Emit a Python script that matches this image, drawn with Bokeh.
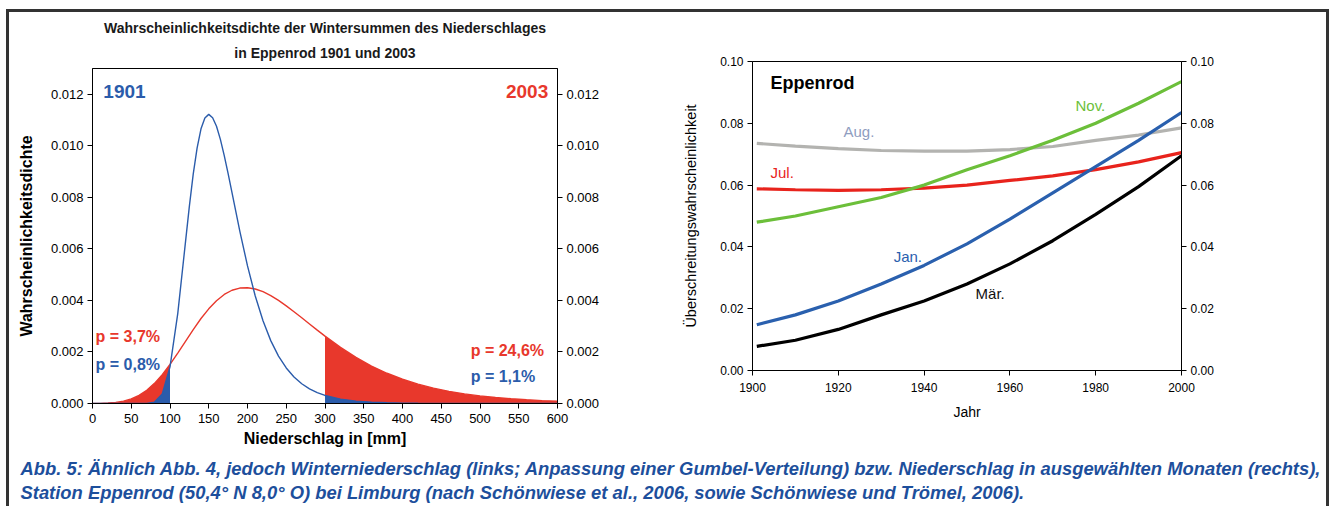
from bokeh.plotting import figure
from bokeh.layouts import row, column
from bokeh.models import Range1d, LinearAxis, FixedTicker, PrintfTickFormatter, Title
from bokeh.core.properties import value
from bokeh.embed import file_html
from bokeh.resources import INLINE

FONT = "Liberation Sans"

# ---------------- data: left chart (density curves) ----------------
blue_x = [0, 10, 20, 30, 40, 50, 60, 70, 80, 90, 100, 110, 120, 125, 130, 135, 140, 145, 150,
          155, 160, 165, 170, 175, 180, 190, 200, 210, 220, 230, 240, 250, 260, 270, 280, 290, 300,
          320, 340, 360, 380, 400, 420, 440, 460, 480, 500, 520, 540, 560, 580, 600]
blue_y = [0, 0, 0, 0, 0, 0, 0.0000001, 0.0000037, 0.000055, 0.000374, 0.00142, 0.00349, 0.00627,
          0.00766, 0.00891, 0.00992, 0.01066, 0.01108, 0.01122, 0.01109, 0.01076, 0.01025, 0.00962,
          0.00892, 0.00818, 0.00670, 0.00534, 0.00417, 0.00321, 0.00244, 0.00184, 0.00138, 0.00103,
          0.000766, 0.000568, 0.000420, 0.000312, 0.000170, 0.000093, 0.000050, 0.000027, 0.000015,
          0.0000080, 0.0000043, 0.0000023, 0.0000013, 0.0000007, 0.0000004, 0.0000002, 0.0000001,
          0.0000001, 0.0]

red_x = [0, 10, 20, 30, 40, 50, 60, 70, 80, 90, 100, 110, 120, 130, 140, 150, 160, 170, 180, 190,
         200, 210, 220, 230, 240, 250, 260, 270, 280, 290, 300, 320, 340, 360, 380, 400, 420, 440,
         460, 480, 500, 520, 540, 560, 580, 600]
red_y = [0.000002, 0.0000064, 0.0000178, 0.0000426, 0.000091, 0.000177, 0.000314, 0.000512,
         0.000782, 0.001119, 0.001517, 0.001955, 0.002415, 0.002870, 0.003298, 0.003674, 0.003990,
         0.004231, 0.004395, 0.004480, 0.004494, 0.004443, 0.004338, 0.004187, 0.004001, 0.003790,
         0.003563, 0.003325, 0.003085, 0.002846, 0.002613, 0.002176, 0.001788, 0.001454, 0.001173,
         0.000940, 0.000750, 0.000596, 0.000472, 0.000373, 0.000294, 0.000231, 0.000182, 0.000143,
         0.000112, 0.0000882]

left_x_ticks = [0, 50, 100, 150, 200, 250, 300, 350, 400, 450, 500, 550, 600]
left_y_ticks = [0.0, 0.002, 0.004, 0.006, 0.008, 0.010, 0.012]

# ---------------- data: right chart (exceedance probabilities) ----------------
years = [1901, 1910, 1920, 1930, 1940, 1950, 1960, 1970, 1980, 1990, 2000]
nov = [0.048, 0.050, 0.053, 0.056, 0.060, 0.065, 0.0695, 0.0745, 0.080, 0.0865, 0.0935]
aug = [0.0735, 0.0726, 0.0718, 0.0712, 0.0710, 0.0710, 0.0715, 0.0725, 0.0745, 0.0762, 0.0785]
jul = [0.0588, 0.0585, 0.0583, 0.0585, 0.0590, 0.0600, 0.0615, 0.0630, 0.0650, 0.0675, 0.0705]
jan = [0.0148, 0.0180, 0.0225, 0.0280, 0.0340, 0.0410, 0.0490, 0.0575, 0.0660, 0.0745, 0.0835]
mar = [0.0078, 0.0098, 0.0133, 0.0180, 0.0225, 0.0280, 0.0345, 0.0420, 0.0505, 0.0595, 0.0695]

right_x_ticks = [1900, 1920, 1940, 1960, 1980, 2000]
right_y_ticks = [0.0, 0.02, 0.04, 0.06, 0.08, 0.10]

title_line1 = "Wahrscheinlichkeitsdichte der Wintersummen des Niederschlages"
title_line2 = "in Eppenrod 1901 und 2003"
caption_lines = [
    "Abb. 5: Ähnlich Abb. 4, jedoch Winterniederschlag (links; Anpassung einer Gumbel-Verteilung) bzw. Niederschlag in ausgewählten Monaten (rechts),",
    "Station Eppenrod (50,4° N 8,0° O) bei Limburg (nach Schönwiese et al., 2006, sowie Schönwiese und Trömel, 2006).",
]

BLUE = "#2b5cab"
RED = "#e8382c"


def style_axis(ax, size, label_size=None, label_bold=True):
    ax.major_label_text_font = FONT
    ax.major_label_text_font_size = size
    ax.major_label_text_color = "black"
    ax.axis_line_color = "black"
    ax.axis_line_width = 1
    ax.major_tick_line_color = "black"
    ax.major_tick_out = 5
    ax.major_tick_in = 0
    ax.minor_tick_line_color = None
    ax.major_label_standoff = 4
    if label_size:
        ax.axis_label_text_font = FONT
        ax.axis_label_text_font_size = label_size
        ax.axis_label_text_font_style = "bold" if label_bold else "normal"
        ax.axis_label_text_color = "black"


def no_align(p):
    try:
        p.frame_align = False
    except Exception as e:
        print("frame_align not available:", e)


# ---------------- left figure ----------------
left = figure(width=652, height=443, x_range=Range1d(0, 600), y_range=Range1d(0, 0.013),
              output_backend="svg", toolbar_location=None,
              min_border_left=83, min_border_right=104, min_border_top=56, min_border_bottom=52)
no_align(left)
left.grid.visible = False
left.outline_line_color = "black"
left.outline_line_alpha = 1
left.border_fill_color = "white"

left.add_layout(Title(text=title_line2, align="center", text_font=FONT, text_font_size="14px",
                      text_font_style="bold", text_color="#1a1a1a", standoff=15), "above")
left.add_layout(Title(text=title_line1, align="center", text_font=FONT, text_font_size="14px",
                      text_font_style="bold", text_color="#1a1a1a", standoff=0), "above")

left.xaxis.ticker = FixedTicker(ticks=left_x_ticks)
left.yaxis.ticker = FixedTicker(ticks=left_y_ticks)
left.yaxis.formatter = PrintfTickFormatter(format="%.3f")
left.xaxis.axis_label = "Niederschlag in [mm]"
left.yaxis.axis_label = "Wahrscheinlichkeitsdichte"
style_axis(left.xaxis[0], "13px", "16px")
style_axis(left.yaxis[0], "13px", "16px")
left.xaxis.major_label_standoff = 5
left.xaxis.axis_label_standoff = 4
left.yaxis.axis_label_standoff = 13

rax = LinearAxis(ticker=FixedTicker(ticks=left_y_ticks), formatter=PrintfTickFormatter(format="%.3f"))
style_axis(rax, "13px")
left.add_layout(rax, "right")

# fills
rl_x = [x for x in red_x if x <= 100]
rl_y = [y for x, y in zip(red_x, red_y) if x <= 100]
rr_x = [x for x in red_x if x >= 300]
rr_y = [y for x, y in zip(red_x, red_y) if x >= 300]
bl_x = [x for x in blue_x if x <= 100]
bl_y = [y for x, y in zip(blue_x, blue_y) if x <= 100]
br_x = [x for x in blue_x if x >= 300]
br_y = [y for x, y in zip(blue_x, blue_y) if x >= 300]
left.varea(x=rl_x, y1=0, y2=rl_y, fill_color=RED)
left.varea(x=rr_x, y1=0, y2=rr_y, fill_color=RED)
left.varea(x=bl_x, y1=0, y2=bl_y, fill_color=BLUE)
left.varea(x=br_x, y1=0, y2=br_y, fill_color=BLUE)

left.line(red_x, red_y, line_color=RED, line_width=1.4)
left.line(blue_x, blue_y, line_color=BLUE, line_width=1.4)

left.text(x=[14], y=[0.01211], text=["1901"], text_color=BLUE, text_font=value(FONT),
          text_font_size="19px", text_font_style="bold", text_baseline="middle", text_align="left")
left.text(x=[588], y=[0.01211], text=["2003"], text_color=RED, text_font=value(FONT),
          text_font_size="19px", text_font_style="bold", text_baseline="middle", text_align="right")
left.text(x=[4, 4], y=[0.0026, 0.00151], text=["p = 3,7%", "p = 0,8%"], text_color=[RED, BLUE],
          text_font=value(FONT), text_font_size="16px", text_font_style="bold",
          text_baseline="middle", text_align="left")
left.text(x=[488, 488], y=[0.00206, 0.00105], text=["p = 24,6%", "p = 1,1%"], text_color=[RED, BLUE],
          text_font=value(FONT), text_font_size="16px", text_font_style="bold",
          text_baseline="middle", text_align="left")

# ---------------- right figure ----------------
right = figure(width=665, height=443, x_range=Range1d(1900, 2000), y_range=Range1d(0, 0.10),
               output_backend="svg", toolbar_location=None,
               min_border_left=91, min_border_right=145, min_border_top=49, min_border_bottom=85)
no_align(right)
right.grid.visible = False
right.outline_line_color = "black"
right.outline_line_alpha = 1
right.xaxis.ticker = FixedTicker(ticks=right_x_ticks)
right.yaxis.ticker = FixedTicker(ticks=right_y_ticks)
right.yaxis.formatter = PrintfTickFormatter(format="%.2f")
right.xaxis.axis_label = "Jahr"
right.yaxis.axis_label = "Überschreitungswahrscheinlichkeit"
style_axis(right.xaxis[0], "12px", "14px", label_bold=False)
style_axis(right.yaxis[0], "12px", "14.5px", label_bold=False)
right.xaxis.major_label_standoff = 7
right.xaxis.axis_label_standoff = 9
right.yaxis.axis_label_standoff = 18

rax2 = LinearAxis(ticker=FixedTicker(ticks=right_y_ticks), formatter=PrintfTickFormatter(format="%.2f"))
style_axis(rax2, "12px")
right.add_layout(rax2, "right")

right.line(years, aug, line_color="#b3b3b0", line_width=3.2)
right.line(years, jul, line_color="#e8231c", line_width=3.2)
right.line(years, nov, line_color="#6cbf3a", line_width=3.2)
right.line(years, mar, line_color="#000000", line_width=3.2)
right.line(years, jan, line_color="#2a60ae", line_width=3.2)

right.text(x=[1904.2], y=[0.0932], text=["Eppenrod"], text_color="black", text_font=value(FONT),
           text_font_size="18px", text_font_style="bold", text_baseline="middle", text_align="left")
right.text(x=[1975.3, 1921.2, 1904.2, 1932.9, 1952.0], y=[0.0858, 0.0773, 0.0641, 0.0369, 0.0249],
           text=["Nov.", "Aug.", "Jul.", "Jan.", "Mär."],
           text_color=["#6cbf3a", "#8f9dbf", "#e8231c", "#2a60ae", "#111111"],
           text_font=value(FONT), text_font_size="15px", text_baseline="middle", text_align="left")

# ---------------- caption ----------------
cap = figure(width=1317, height=51, x_range=Range1d(0, 1317), y_range=Range1d(0, 51),
             output_backend="svg", toolbar_location=None, min_border=0,
             x_axis_location=None, y_axis_location=None)
cap.grid.visible = False
cap.outline_line_color = None
cap.text(x=[11, 11], y=[38, 14], text=caption_lines, text_color="#1d4f9c", text_font=value(FONT),
         text_font_size="18.4px", text_font_style="bold italic", text_baseline="middle",
         text_align="left")

layout = column(row(left, right, spacing=0), cap, spacing=0,
                styles={"margin-left": "6px", "margin-top": "9px",
                        "border-top": "3px solid #333333", "border-left": "3px solid #333333",
                        "border-right": "3px solid #333333", "background-color": "white"})

open("out.html", "w").write(file_html(layout, INLINE))
